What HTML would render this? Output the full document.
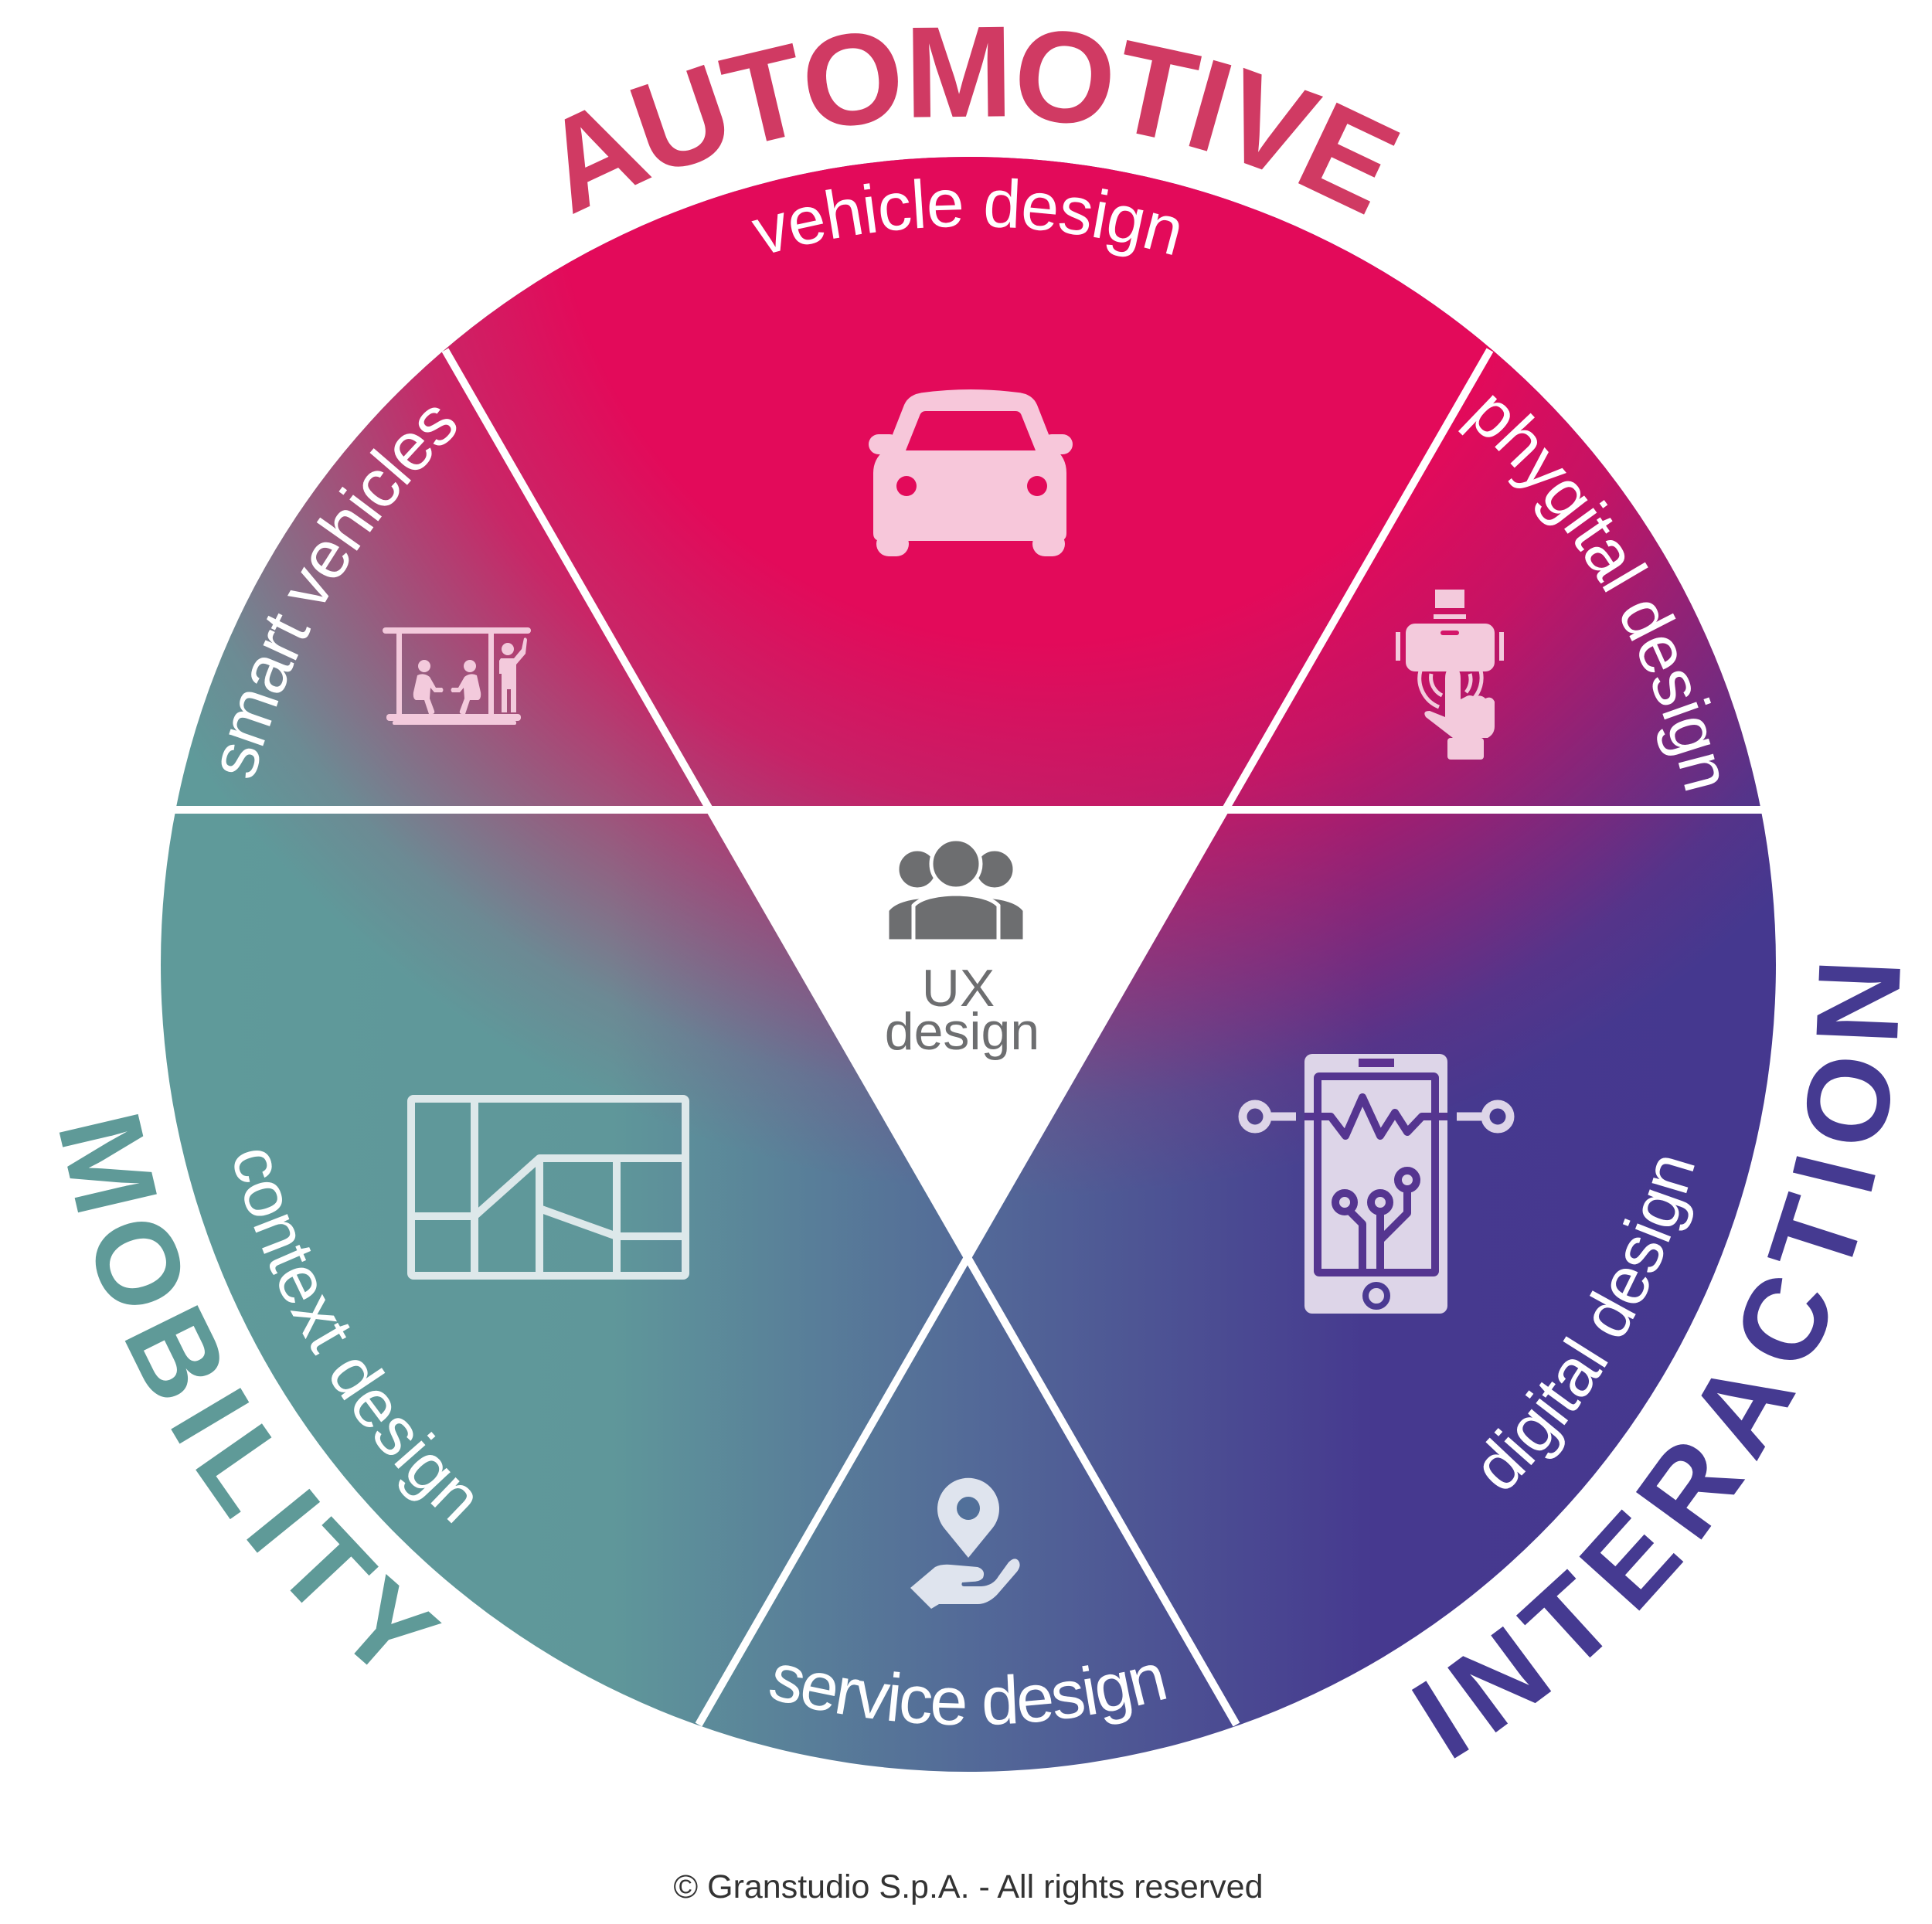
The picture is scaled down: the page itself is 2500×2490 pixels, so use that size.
<!DOCTYPE html>
<html><head><meta charset="utf-8"><style>
html,body{margin:0;padding:0;background:#fff;}
svg{display:block;}
</style></head><body>
<svg width="2500" height="2490" viewBox="0 0 2500 2490" xmlns="http://www.w3.org/2000/svg">
<defs>
<clipPath id="cc"><circle cx="1253" cy="1248" r="1045"/></clipPath>
<linearGradient id="horiz" gradientUnits="userSpaceOnUse" x1="208" y1="0" x2="2298" y2="0">
<stop offset="0" stop-color="#5f9a9a"/>
<stop offset="0.28" stop-color="#5f979a"/>
<stop offset="0.5" stop-color="#536a98"/>
<stop offset="0.75" stop-color="#46398f"/>
<stop offset="1" stop-color="#45388f"/>
</linearGradient>
<radialGradient id="pink" gradientUnits="userSpaceOnUse" cx="1350" cy="200" r="1500">
<stop offset="0" stop-color="#e30a5a" stop-opacity="1"/>
<stop offset="0.42" stop-color="#e30a5a" stop-opacity="1"/>
<stop offset="0.56" stop-color="#e30a5a" stop-opacity="0.8"/>
<stop offset="0.7" stop-color="#e30a5a" stop-opacity="0.42"/>
<stop offset="0.82" stop-color="#e30a5a" stop-opacity="0.1"/>
<stop offset="0.9" stop-color="#e30a5a" stop-opacity="0"/>
</radialGradient>
<path id="pAuto" d="M738.4,280.3 A1088,1088 0 0 1 1767.6,280.3"/>
<path id="pInter" d="M1873.6,2280.9 A1205,1205 0 0 0 2457.8,1227.0"/>
<path id="pMob" d="M76.1,1455.5 A1205,1205 0 0 0 533.8,2202.3"/>
<path id="pVeh" d="M705.2,465.7 A955,955 0 0 1 1800.8,465.7"/>
<path id="pSmart" d="M301.0,1323.0 A955,955 0 0 1 857.0,378.9"/>
<path id="pPhy" d="M1649.0,378.9 A955,955 0 0 1 2205.0,1323.0"/>
<path id="pDig" d="M1665.0,2131.6 A975,975 0 0 0 2224.3,1163.0"/>
<path id="pServ" d="M688.6,2054.1 A984,984 0 0 0 1817.4,2054.1"/>
<path id="pCtx" d="M270.4,1179.2 A985,985 0 0 0 852.4,2147.8"/>
</defs>

<g clip-path="url(#cc)">
<rect x="0" y="0" width="2500" height="2490" fill="url(#horiz)"/>
<rect x="0" y="0" width="2500" height="2490" fill="url(#pink)"/>
</g>

<g stroke="#fff" stroke-width="10">
<line x1="150" y1="1048" x2="2350" y2="1048"/>
<line x1="576" y1="453" x2="1600" y2="2232"/>
<line x1="1928" y1="453" x2="904" y2="2232"/>
</g>
<polygon points="917,1048 1589,1048 1253,1632" fill="#fff"/>

<text font-family="Liberation Sans, sans-serif" font-weight="bold" font-size="168" fill="#d03a63"><textPath href="#pAuto" textLength="1075" lengthAdjust="spacing">AUTOMOTIVE</textPath></text>
<text font-family="Liberation Sans, sans-serif" font-weight="bold" font-size="152" fill="#453a91"><textPath href="#pInter" textLength="1245" lengthAdjust="spacing">INTERACTION</textPath></text>
<text font-family="Liberation Sans, sans-serif" font-weight="bold" font-size="152" fill="#5f9a98"><textPath href="#pMob" textLength="860" lengthAdjust="spacing">MOBILITY</textPath></text>

<g font-family="Liberation Sans, sans-serif" font-size="88" fill="#fff" text-anchor="middle">
<text><textPath href="#pVeh" startOffset="50%" textLength="545" lengthAdjust="spacing">vehicle design</textPath></text>
<text><textPath href="#pSmart" startOffset="50%" textLength="540" lengthAdjust="spacing">smart vehicles</textPath></text>
<text><textPath href="#pPhy" startOffset="50%" textLength="575" lengthAdjust="spacing">phygital design</textPath></text>
<text><textPath href="#pDig" startOffset="50%" textLength="505" lengthAdjust="spacing">digital design</textPath></text>
<text><textPath href="#pServ" startOffset="50%" textLength="530" lengthAdjust="spacing">service design</textPath></text>
<text><textPath href="#pCtx" startOffset="50%" textLength="570" lengthAdjust="spacing">context design</textPath></text>
</g>

<g fill="#f7c7da">
<path d="M1195,508 Q1256,500 1318,508 Q1336,510 1342,524 L1364,580 Q1380,592 1380,612 V690 Q1380,700 1370,700 H1140 Q1130,700 1130,690 V612 Q1130,592 1148,580 L1170,524 Q1176,510 1195,508 Z"/>
<rect x="1134" y="688" width="42" height="32" rx="16"/>
<rect x="1336" y="688" width="42" height="32" rx="16"/>
<rect x="1124" y="562" width="40" height="26" rx="13"/>
<rect x="1348" y="562" width="40" height="26" rx="13"/>
</g>
<path d="M1198,532 H1314 Q1320,532 1322,538 L1340,583 H1172 L1190,538 Q1192,532 1198,532 Z" fill="#e30a5a"/>
<circle cx="1173" cy="629" r="13" fill="#e30a5a"/>
<circle cx="1342" cy="629" r="13" fill="#e30a5a"/>

<g fill="#f3cadc" stroke="none">
<rect x="495" y="812" width="192" height="8" rx="4"/>
<rect x="513" y="818" width="7" height="110"/>
<rect x="632" y="818" width="7" height="110"/>
<rect x="500" y="924" width="174" height="9" rx="4"/>
<rect x="508" y="933" width="160" height="5" rx="2"/>
<circle cx="549" cy="862" r="8"/>
<path d="M540,874 Q548,870 556,876 L564,890 L572,890 Q575,893 572,896 L562,896 L557,890 L556,904 L562,920 Q563,924 559,924 L555,924 L549,906 L538,906 Q534,904 535,896 Z"/>
<circle cx="608" cy="862" r="8"/>
<path d="M617,874 Q609,870 601,876 L593,890 L585,890 Q582,893 585,896 L595,896 L600,890 L601,904 L595,920 Q594,924 598,924 L602,924 L608,906 L619,906 Q623,904 622,896 Z"/>
<circle cx="657" cy="840" r="8"/>
<path d="M648,852 H665 L675,840 L678,826 Q681,824 682,828 L680,846 L668,860 V922 H661 V892 H656 V922 H649 V872 L646,872 V855 Z"/>
</g>

<g fill="#f3cadc">
<rect x="1857" y="763" width="38" height="24"/>
<rect x="1855" y="795" width="42" height="6"/>
<rect x="1819" y="807" width="115" height="62" rx="12"/>
<rect x="1806" y="818" width="6" height="37"/>
<rect x="1940" y="818" width="6" height="37"/>
<path d="M1838,868 A40,40 0 0 0 1862,915" fill="none" stroke="#f3cadc" stroke-width="5"/>
<path d="M1916,868 A40,40 0 0 1 1906,905" fill="none" stroke="#f3cadc" stroke-width="5"/>
<path d="M1852,872 A26,26 0 0 0 1866,900" fill="none" stroke="#f3cadc" stroke-width="5"/>
<path d="M1902,872 A26,26 0 0 1 1897,896" fill="none" stroke="#f3cadc" stroke-width="5"/>
<path d="M1870,878 Q1870,864 1880,864 Q1890,864 1890,878 V905 L1896,902 Q1902,898 1908,902 Q1916,898 1922,904 Q1930,900 1934,908 V940 Q1934,950 1925,955 H1880 L1845,928 Q1840,920 1850,920 L1870,928 Z"/>
<rect x="1873" y="955" width="47" height="28" rx="4"/>
</g>
<rect x="1864" y="816" width="24" height="6" rx="3" fill="#d4166a"/>

<g fill="#6d6e70" stroke="#fff" stroke-width="5">
<circle cx="1187" cy="1125" r="26"/>
<circle cx="1287" cy="1125" r="26"/>
<path d="M1148,1218 V1178 Q1160,1162 1200,1160 Q1250,1160 1260,1180 V1218 Z"/>
<path d="M1326,1218 V1178 Q1314,1162 1274,1160 Q1224,1160 1214,1180 V1218 Z"/>
<circle cx="1237" cy="1118" r="32"/>
<path d="M1182,1218 V1172 Q1195,1158 1237,1157 Q1279,1158 1292,1172 V1218 Z"/>
</g>
<text x="1240" y="1302" text-anchor="middle" font-family="Liberation Sans, sans-serif" font-size="68" fill="#6d6e70">UX</text>
<text x="1245" y="1358" text-anchor="middle" font-family="Liberation Sans, sans-serif" font-size="68" fill="#6d6e70">design</text>

<g fill="none" stroke="#dde8ea" stroke-width="10" stroke-linejoin="round">
<rect x="532" y="1422" width="355" height="229" rx="3"/>
<line x1="614" y1="1422" x2="614" y2="1651"/>
<line x1="532" y1="1574" x2="614" y2="1574"/>
<polyline points="614,1574 698,1499 887,1499"/>
<line x1="698" y1="1499" x2="698" y2="1651"/>
<line x1="698" y1="1564" x2="798" y2="1600"/>
<line x1="798" y1="1499" x2="798" y2="1651"/>
<line x1="798" y1="1600" x2="887" y2="1600"/>
</g>

<rect x="1688" y="1364" width="185" height="336" rx="10" fill="#ddd5e8"/>
<rect x="1758" y="1370" width="46" height="11" fill="#5e3290"/>
<rect x="1705" y="1393" width="152" height="254" rx="2" fill="none" stroke="#553590" stroke-width="10"/>
<circle cx="1781" cy="1677" r="14" fill="none" stroke="#4b3a92" stroke-width="8"/>
<g stroke="#ddd5e8" stroke-width="11" fill="none">
<line x1="1645" y1="1445" x2="1677" y2="1445"/>
<line x1="1885" y1="1445" x2="1917" y2="1445"/>
</g>
<circle cx="1624" cy="1445" r="16" fill="none" stroke="#ddd5e8" stroke-width="11"/>
<circle cx="1938" cy="1445" r="16" fill="none" stroke="#ddd5e8" stroke-width="11"/>
<g stroke="#553590" stroke-width="10" fill="none" stroke-linejoin="round">
<polyline points="1688,1445 1722,1445 1741,1470 1763,1420 1786,1470 1805,1440 1821,1465 1840,1445 1873,1445"/>
<circle cx="1740" cy="1556" r="12"/>
<circle cx="1786" cy="1556" r="12"/>
<circle cx="1821" cy="1527" r="12"/>
<polyline points="1746,1567 1763,1584 1763,1647"/>
<line x1="1786" y1="1568" x2="1786" y2="1647"/>
<polyline points="1821,1539 1821,1570 1786,1605"/>
</g>

<path d="M1253,2016 L1222,1978 A40,40 0 1 1 1284,1978 Z" fill="#dfe4ee"/>
<circle cx="1253" cy="1952" r="15" fill="#51709a"/>
<path d="M1178,2055 L1210,2028 Q1218,2024 1230,2025 L1265,2028 Q1276,2032 1272,2042 Q1268,2047 1258,2047 L1245,2048 Q1243,2053 1248,2053 L1270,2053 Q1285,2052 1292,2040 L1305,2022 Q1313,2014 1318,2020 Q1322,2026 1316,2034 L1290,2064 Q1278,2076 1265,2076 L1215,2076 L1205,2082 Z" fill="#dfe4ee"/>

<text x="1253" y="2456" text-anchor="middle" font-family="Liberation Sans, sans-serif" font-size="43" fill="#333">© Granstudio S.p.A. - All rights reserved</text>
</svg>
</body></html>
